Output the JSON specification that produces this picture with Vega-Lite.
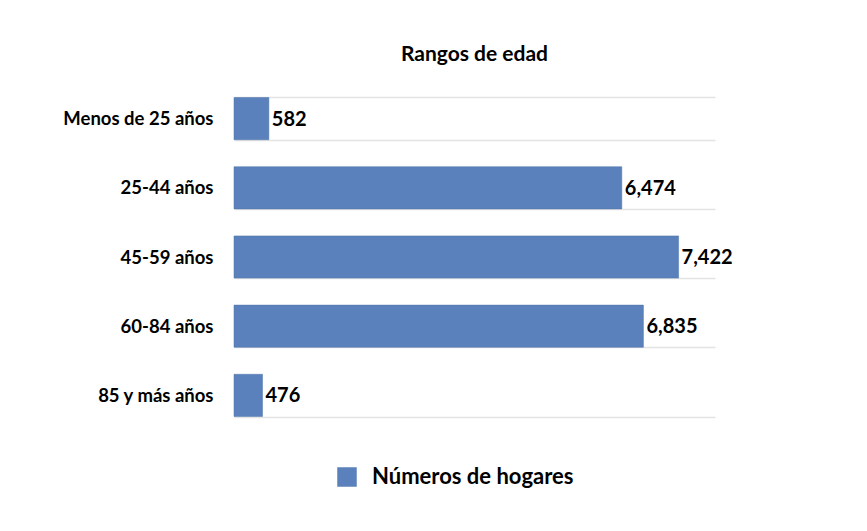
{
  "$schema": "https://vega.github.io/schema/vega-lite/v6.json",
  "autosize": "none",
  "width": 481,
  "height": 346,
  "padding": {"left": 234, "top": 84, "right": 152, "bottom": 101},
  "background": "#ffffff",
  "config": {"view": {"stroke": null}, "font": "Lato"},
  "title": {"text": "Rangos de edad", "fontSize": 21, "font": "Lato", "fontWeight": "bold", "color": "#000000", "anchor": "middle", "offset": 10},
  "data": {"values": [
    {"rango": "Menos de 25 años", "hogares": 582, "serie": "Números de hogares"},
    {"rango": "25-44 años", "hogares": 6474, "serie": "Números de hogares"},
    {"rango": "45-59 años", "hogares": 7422, "serie": "Números de hogares"},
    {"rango": "60-84 años", "hogares": 6835, "serie": "Números de hogares"},
    {"rango": "85 y más años", "hogares": 476, "serie": "Números de hogares"}
  ]},
  "encoding": {
    "y": {"field": "rango", "type": "nominal", "sort": null,
      "scale": {"paddingInner": 0.39, "paddingOuter": 0.195},
      "axis": {"title": null, "domain": false, "ticks": false, "grid": true, "tickBand": "extent", "gridColor": "#e3e3e3", "gridWidth": 1.5, "labelFont": "Lato", "labelFontWeight": "bold", "labelFontSize": 18.5, "labelColor": "#000000", "labelPadding": 21, "labelLimit": 0}},
    "x": {"field": "hogares", "type": "quantitative", "scale": {"domain": [0, 8030]}, "axis": null}
  },
  "layer": [
    {"mark": {"type": "bar", "stroke": "#4f74ab", "strokeWidth": 0.5},
     "encoding": {"color": {"field": "serie", "type": "nominal", "scale": {"range": ["#5a81bb"]},
       "legend": {"title": null, "orient": "none", "legendX": 102, "legendY": 382, "symbolType": "square", "symbolSize": 380, "symbolStrokeWidth": 0, "labelFont": "Lato", "labelFontSize": 22, "labelFontWeight": "bold", "labelColor": "#000000", "labelOffset": 14, "labelLimit": 0}}}},
    {"mark": {"type": "text", "align": "left", "baseline": "middle", "dx": 3, "dy": 1, "font": "Lato", "fontSize": 20, "fontWeight": "bold", "color": "#000000"},
     "encoding": {"text": {"field": "hogares", "type": "quantitative", "format": ","}}}
  ]
}
